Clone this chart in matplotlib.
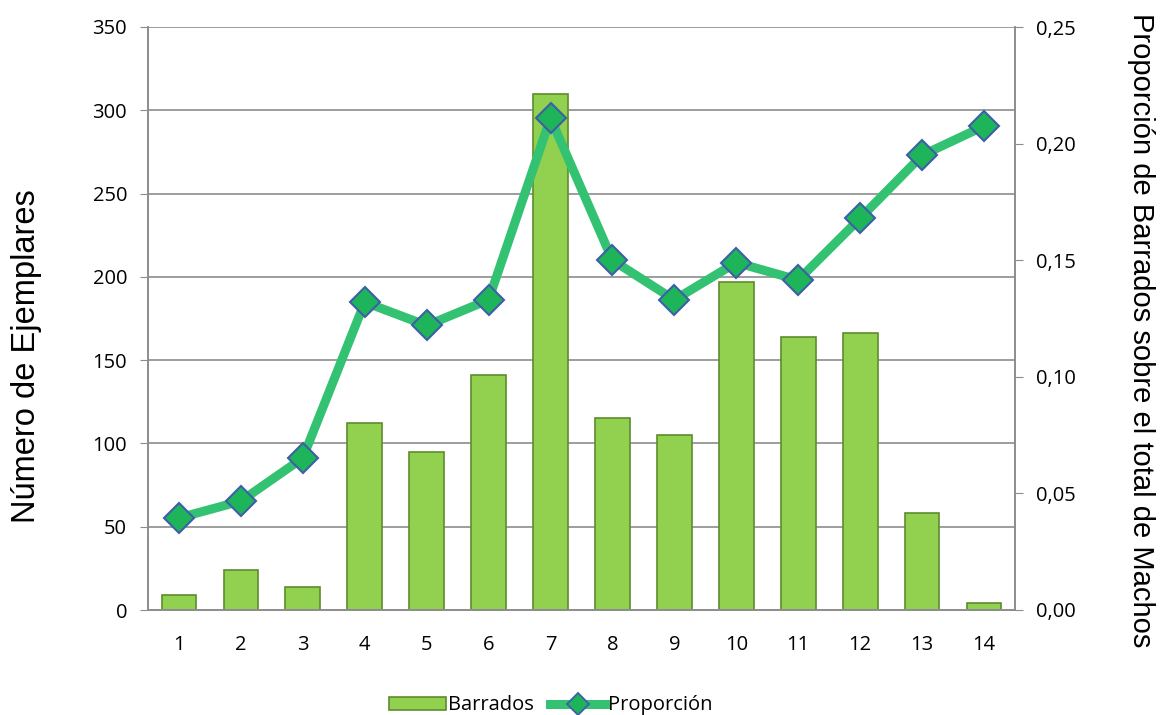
import matplotlib
matplotlib.use("Agg")
import matplotlib.pyplot as plt
from matplotlib.lines import Line2D
from matplotlib.patches import Rectangle
import numpy as np

categories = ["1", "2", "3", "4", "5", "6", "7", "8", "9", "10", "11", "12", "13", "14"]
barrados = [9, 24, 14, 112, 95, 141, 310, 115, 105, 197, 164, 166, 58, 4]
proporcion = [0.0395, 0.0467, 0.0652, 0.132, 0.122, 0.133, 0.211, 0.150, 0.133, 0.149, 0.1415, 0.168, 0.195, 0.2075]
left_ticks = [0, 50, 100, 150, 200, 250, 300, 350]
right_ticks = [0.0, 0.05, 0.10, 0.15, 0.20, 0.25]
right_labels = ["0,00", "0,05", "0,10", "0,15", "0,20", "0,25"]

plt.rcParams['font.family'] = ['Open Sans', 'DejaVu Sans']

W, H = 1165, 715
fig = plt.figure(figsize=(W / 100, H / 100), dpi=100)
ax = fig.add_axes([148 / W, 1 - 610 / H, 867 / W, 583 / H])
x = np.arange(len(categories))

GRID = "#8c8c8c"
for y in left_ticks[1:]:
    ax.axhline(y, color=GRID, lw=1.2, zorder=0)
bars = ax.bar(x, barrados, width=0.56, color="#92D050", edgecolor="#5E8C2E",
              linewidth=1.2, zorder=2, label="Barrados")
ax.set_ylim(0, 350)
ax.set_xlim(-0.5, len(categories) - 0.5)
ax.set_yticks(left_ticks)
ax.set_yticklabels([str(v) for v in left_ticks], fontsize=14.5)
ax.set_xticks(x)
ax.set_xticklabels(categories, fontsize=14.5)
ax.tick_params(axis='x', length=0, pad=18)
ax.tick_params(axis='y', length=6, color=GRID, direction='out', pad=9)
ax.spines["top"].set_visible(False)
for s in ["left", "right", "bottom"]:
    ax.spines[s].set_color(GRID)
    ax.spines[s].set_linewidth(1.2)

ax2 = ax.twinx()
ax2.set_ylim(0, 0.25)
ax2.set_yticks(right_ticks)
ax2.set_yticklabels(right_labels, fontsize=14.5)
ax2.tick_params(axis='y', length=6, color=GRID, direction='out', pad=9)
ax2.spines["top"].set_visible(False)
for s in ["left", "right", "bottom"]:
    ax2.spines[s].set_color(GRID)
    ax2.spines[s].set_linewidth(1.2)
line, = ax2.plot(x, proporcion, color="#33C172", lw=6.5, marker="D", markersize=15,
                 markerfacecolor="#1DB45A", markeredgecolor="#3E5FA8", markeredgewidth=1.5,
                 zorder=3, label="Proporción")

fig.text(27 / W, 1 - 356 / H, "Número de Ejemplares", family="Liberation Sans",
         fontsize=23.5, rotation=90, ha="center", va="center")
fig.text(1141 / W, 1 - 330 / H, "Proporción de Barrados sobre el total de Machos",
         family="Liberation Sans", fontsize=21, rotation=-90, ha="center", va="center")

bar_proxy = Rectangle((0, 0), 1, 1, facecolor="#92D050", edgecolor="#5E8C2E", linewidth=1.2)
line_proxy = Line2D([], [], color="#33C172", lw=6.5, marker="D", markersize=11,
                    markerfacecolor="#1DB45A", markeredgecolor="#3E5FA8", markeredgewidth=1.3)
fig.legend([bar_proxy, line_proxy], ["Barrados", "Proporción"], loc="lower center",
           bbox_to_anchor=(0.473, -0.026), ncol=2, frameon=False, fontsize=14.5,
           handlelength=2.8, handleheight=0.6, columnspacing=0.8, handletextpad=0.1)

fig.savefig("out.png", dpi=100)
